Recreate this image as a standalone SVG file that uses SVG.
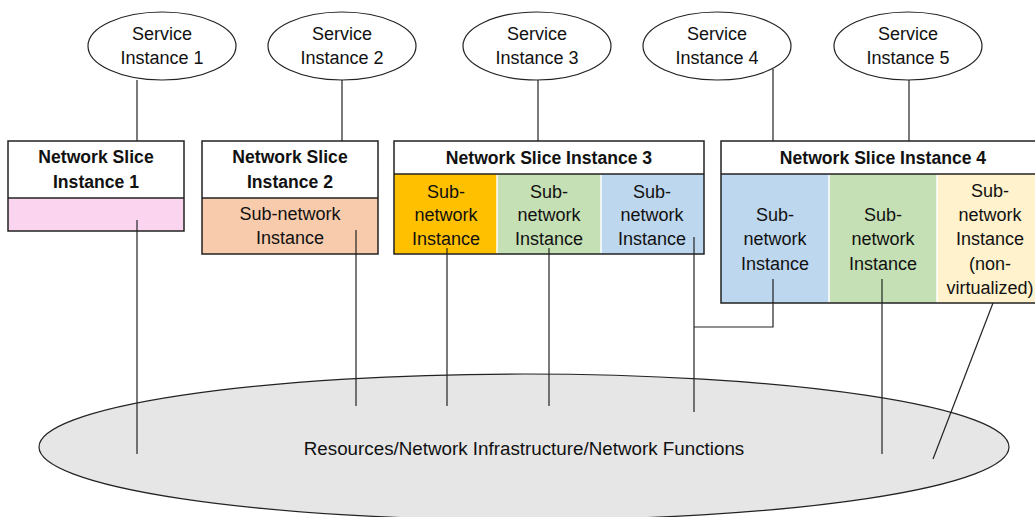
<svg xmlns="http://www.w3.org/2000/svg" width="1035" height="517" viewBox="0 0 1035 517">
  <style>
    text { font-family: "Liberation Sans", Arial, sans-serif; font-size: 18px; fill: #111; text-anchor: middle; }
    .b { font-weight: bold; font-size: 17.6px; }
    .big { font-size: 18.8px; }
    .svc { fill: #fff; stroke: #222; stroke-width: 1.2; }
    .box { fill: none; stroke: #222; stroke-width: 1.5; }
    .hdr { fill: #fff; }
    .sep { stroke: #222; stroke-width: 1.5; }
    .csep { stroke: #fff; stroke-width: 1.5; }
    .wire { fill: none; stroke: #222; stroke-width: 1.2; }
  </style>

  <!-- shared infrastructure -->
  <g id="infrastructure">
    <ellipse cx="524" cy="447" rx="485" ry="73" fill="#e6e6e6" stroke="#222" stroke-width="1.2"/>
    <text class="big" x="524" y="455">Resources/Network Infrastructure/Network Functions</text>
  </g>

  <!-- service instances -->
  <g id="service1">
    <ellipse class="svc" cx="162" cy="46" rx="74" ry="34"/>
    <text x="162" y="40">Service</text>
    <text x="162" y="64">Instance 1</text>
  </g>
  <g id="service2">
    <ellipse class="svc" cx="342" cy="46" rx="74" ry="34"/>
    <text x="342" y="40">Service</text>
    <text x="342" y="64">Instance 2</text>
  </g>
  <g id="service3">
    <ellipse class="svc" cx="537" cy="46" rx="74" ry="34"/>
    <text x="537" y="40">Service</text>
    <text x="537" y="64">Instance 3</text>
  </g>
  <g id="service4">
    <ellipse class="svc" cx="717" cy="46" rx="74" ry="34"/>
    <text x="717" y="40">Service</text>
    <text x="717" y="64">Instance 4</text>
  </g>
  <g id="service5">
    <ellipse class="svc" cx="908" cy="46" rx="74" ry="34"/>
    <text x="908" y="40">Service</text>
    <text x="908" y="64">Instance 5</text>
  </g>

  <!-- network slice instance 1 -->
  <g id="slice1">
    <rect class="hdr" x="8" y="141" width="176" height="57"/>
    <rect x="8" y="198" width="176" height="33" fill="#fbd5ef"/>
    <line class="sep" x1="8" y1="198" x2="184" y2="198"/>
    <rect class="box" x="8" y="141" width="176" height="90"/>
    <text class="b" x="96" y="163">Network Slice</text>
    <text class="b" x="96" y="188">Instance 1</text>
  </g>

  <!-- network slice instance 2 -->
  <g id="slice2">
    <rect class="hdr" x="202" y="141" width="176" height="57"/>
    <rect x="202" y="198" width="176" height="56" fill="#f8cbad"/>
    <line class="sep" x1="202" y1="198" x2="378" y2="198"/>
    <rect class="box" x="202" y="141" width="176" height="113"/>
    <text class="b" x="290" y="163">Network Slice</text>
    <text class="b" x="290" y="188">Instance 2</text>
    <text x="290" y="220">Sub-network</text>
    <text x="290" y="244">Instance</text>
  </g>

  <!-- network slice instance 3 -->
  <g id="slice3">
    <rect class="hdr" x="394" y="141" width="310" height="33"/>
    <rect x="394" y="174" width="103" height="80" fill="#ffc000"/>
    <rect x="497" y="174" width="104" height="80" fill="#c5e0b4"/>
    <rect x="601" y="174" width="103" height="80" fill="#bdd7ee"/>
    <line class="csep" x1="497" y1="175" x2="497" y2="253"/>
    <line class="csep" x1="601" y1="175" x2="601" y2="253"/>
    <line class="sep" x1="394" y1="174" x2="704" y2="174"/>
    <rect class="box" x="394" y="141" width="310" height="113"/>
    <text class="b" x="549" y="164">Network Slice Instance 3</text>
    <text x="446" y="198">Sub-</text>
    <text x="446" y="221">network</text>
    <text x="446" y="245">Instance</text>
    <text x="549" y="198">Sub-</text>
    <text x="549" y="221">network</text>
    <text x="549" y="245">Instance</text>
    <text x="652" y="198">Sub-</text>
    <text x="652" y="221">network</text>
    <text x="652" y="245">Instance</text>
  </g>

  <!-- network slice instance 4 -->
  <g id="slice4">
    <rect class="hdr" x="721" y="141" width="324" height="33"/>
    <rect x="721" y="174" width="108" height="129" fill="#bdd7ee"/>
    <rect x="829" y="174" width="108" height="129" fill="#c5e0b4"/>
    <rect x="937" y="174" width="108" height="129" fill="#fff2cc"/>
    <line class="csep" x1="829" y1="175" x2="829" y2="302"/>
    <line class="csep" x1="937" y1="175" x2="937" y2="302"/>
    <line class="sep" x1="721" y1="174" x2="1045" y2="174"/>
    <rect class="box" x="721" y="141" width="324" height="162"/>
    <text class="b" x="883" y="164">Network Slice Instance 4</text>
    <text x="775" y="221">Sub-</text>
    <text x="775" y="245">network</text>
    <text x="775" y="270">Instance</text>
    <text x="883" y="221">Sub-</text>
    <text x="883" y="245">network</text>
    <text x="883" y="270">Instance</text>
    <text x="990" y="197">Sub-</text>
    <text x="990" y="221">network</text>
    <text x="990" y="245">Instance</text>
    <text x="990" y="270">(non-</text>
    <text x="990" y="294">virtualized)</text>
  </g>

  <!-- connectors -->
  <g id="connectors">
    <line class="wire" x1="137" y1="80" x2="137" y2="141"/>
    <line class="wire" x1="342" y1="80" x2="342" y2="141"/>
    <line class="wire" x1="538" y1="80" x2="538" y2="141"/>
    <line class="wire" x1="773" y1="69" x2="773" y2="141"/>
    <line class="wire" x1="909" y1="80" x2="909" y2="141"/>

    <line class="wire" x1="137" y1="220" x2="137" y2="454"/>
    <line class="wire" x1="356" y1="230" x2="356" y2="406"/>
    <line class="wire" x1="447" y1="248" x2="447" y2="406"/>
    <line class="wire" x1="549" y1="248" x2="549" y2="406"/>
    <line class="wire" x1="694" y1="237" x2="694" y2="412"/>
    <polyline class="wire" points="773,279 773,327 694,327"/>
    <line class="wire" x1="882" y1="279" x2="882" y2="454"/>
    <line class="wire" x1="993" y1="303" x2="933" y2="459"/>
  </g>
</svg>
